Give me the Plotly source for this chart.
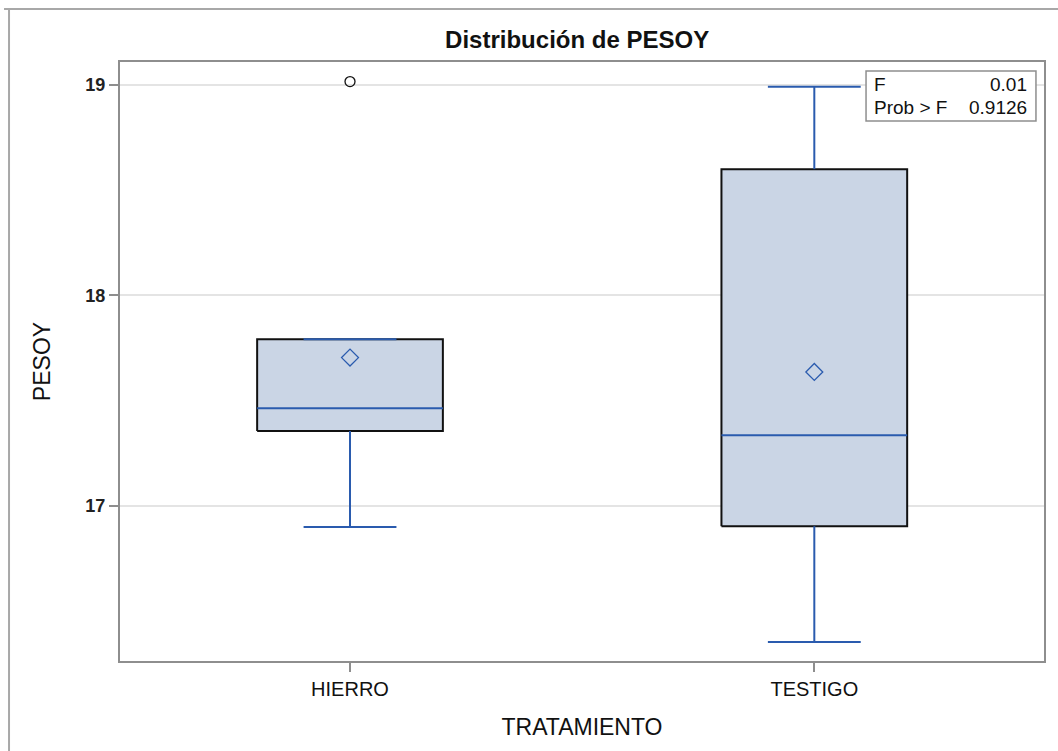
import plotly.graph_objects as go

# Box-plot summary of PESOY by TRATAMIENTO
categories = ["HIERRO", "TESTIGO"]
q1 = [17.356, 16.904]
median = [17.464, 17.336]
q3 = [17.792, 18.600]
whisker_low = [16.900, 16.354]
whisker_high = [17.792, 18.992]
means = [17.705, 17.637]
outlier_cat = [0]
outlier_val = [19.016]

# ANOVA inset
stat_labels = ["F", "Prob > F"]
stat_values = ["0.01", "0.9126"]

BOX_FILL = "#CAD5E5"
BLUE = "#2A5BAE"
GRID = "#E4E4E4"
FRAME = "#8E8E8E"
FONT = "Liberation Sans"

HALF_BOX = 0.2
HALF_CAP = 0.1

fig = go.Figure()

for i, cat in enumerate(categories):
    # box body
    fig.add_trace(go.Scatter(
        x=[i - HALF_BOX, i + HALF_BOX, i + HALF_BOX, i - HALF_BOX, i - HALF_BOX],
        y=[q1[i], q1[i], q3[i], q3[i], q1[i]],
        mode="lines", fill="toself", fillcolor=BOX_FILL,
        line=dict(color="#111111", width=2), hoverinfo="skip", showlegend=False))
    # median
    fig.add_trace(go.Scatter(
        x=[i - HALF_BOX, i + HALF_BOX], y=[median[i], median[i]],
        mode="lines", line=dict(color=BLUE, width=2), showlegend=False))
    # whiskers
    fig.add_trace(go.Scatter(
        x=[i, i, None, i, i], y=[q3[i], whisker_high[i], None, q1[i], whisker_low[i]],
        mode="lines", line=dict(color=BLUE, width=2), showlegend=False))
    # caps
    fig.add_trace(go.Scatter(
        x=[i - HALF_CAP, i + HALF_CAP, None, i - HALF_CAP, i + HALF_CAP],
        y=[whisker_high[i], whisker_high[i], None, whisker_low[i], whisker_low[i]],
        mode="lines", line=dict(color=BLUE, width=2), showlegend=False))

# means
fig.add_trace(go.Scatter(
    x=list(range(len(categories))), y=means, mode="markers",
    marker=dict(symbol="diamond-open", size=13, color=BLUE, line=dict(width=1.3)),
    showlegend=False))

# outliers
fig.add_trace(go.Scatter(
    x=outlier_cat, y=outlier_val, mode="markers",
    marker=dict(symbol="circle-open", size=10, color="#111111", line=dict(width=1.3)),
    showlegend=False))

shapes = [
    # outer frame (top and left edges)
    dict(type="line", xref="paper", yref="paper", x0=-0.1255, x1=1.02, y0=1.0885, y1=1.0885,
         line=dict(color="#A8A8A8", width=2)),
    dict(type="line", xref="paper", yref="paper", x0=-0.1201, x1=-0.1201, y0=1.0885, y1=-0.16,
         line=dict(color="#A8A8A8", width=2)),
    # inset box
    dict(type="rect", xref="paper", yref="paper", x0=0.8074, x1=0.9913, y0=0.9015, y1=0.985,
         line=dict(color="#8E8E8E", width=1.5), fillcolor="white"),
]

annotations = []
row_y = [0.963, 0.924]
for lab, val, yy in zip(stat_labels, stat_values, row_y):
    annotations.append(dict(xref="paper", yref="paper", x=0.8135, y=yy, text=lab,
                            showarrow=False, xanchor="left", yanchor="middle",
                            font=dict(family=FONT, size=19, color="#111111")))
    annotations.append(dict(xref="paper", yref="paper", x=0.9837, y=yy, text=val,
                            showarrow=False, xanchor="right", yanchor="middle",
                            font=dict(family=FONT, size=19, color="#111111")))

fig.update_layout(
    width=1058, height=751,
    margin=dict(l=120, r=14, t=62, b=90),
    paper_bgcolor="white", plot_bgcolor="white",
    title=dict(text="<b>Distribución de PESOY</b>", xref="container", yref="container",
               x=0.5455, y=0.9467, xanchor="center", yanchor="middle",
               font=dict(family=FONT, size=24, color="#111111")),
    shapes=shapes, annotations=annotations,
    showlegend=False,
)

fig.update_xaxes(
    range=[-0.4954, 1.4947], tickvals=list(range(len(categories))), ticktext=categories,
    showgrid=False, zeroline=False,
    showline=True, mirror=True, linecolor=FRAME, linewidth=2,
    ticks="outside", ticklen=9, tickcolor=FRAME, tickwidth=1.5,
    tickfont=dict(family=FONT, size=20, color="#111111"),
    title=dict(text="TRATAMIENTO", font=dict(family=FONT, size=23, color="#111111"), standoff=20),
)
fig.update_yaxes(
    range=[16.264, 19.109], tickvals=[17, 18, 19],
    ticktext=["<b>17</b>", "<b>18</b>", "<b>19</b>"],
    showgrid=True, gridcolor=GRID, gridwidth=1.5, zeroline=False,
    showline=True, mirror=True, linecolor=FRAME, linewidth=2,
    ticks="outside", ticklen=9, tickcolor=FRAME, tickwidth=1.5,
    tickfont=dict(family=FONT, size=18, color="#222222"),
    title=dict(text="PESOY", font=dict(family=FONT, size=23, color="#111111"), standoff=28),
)

fig.write_html("out.html")
